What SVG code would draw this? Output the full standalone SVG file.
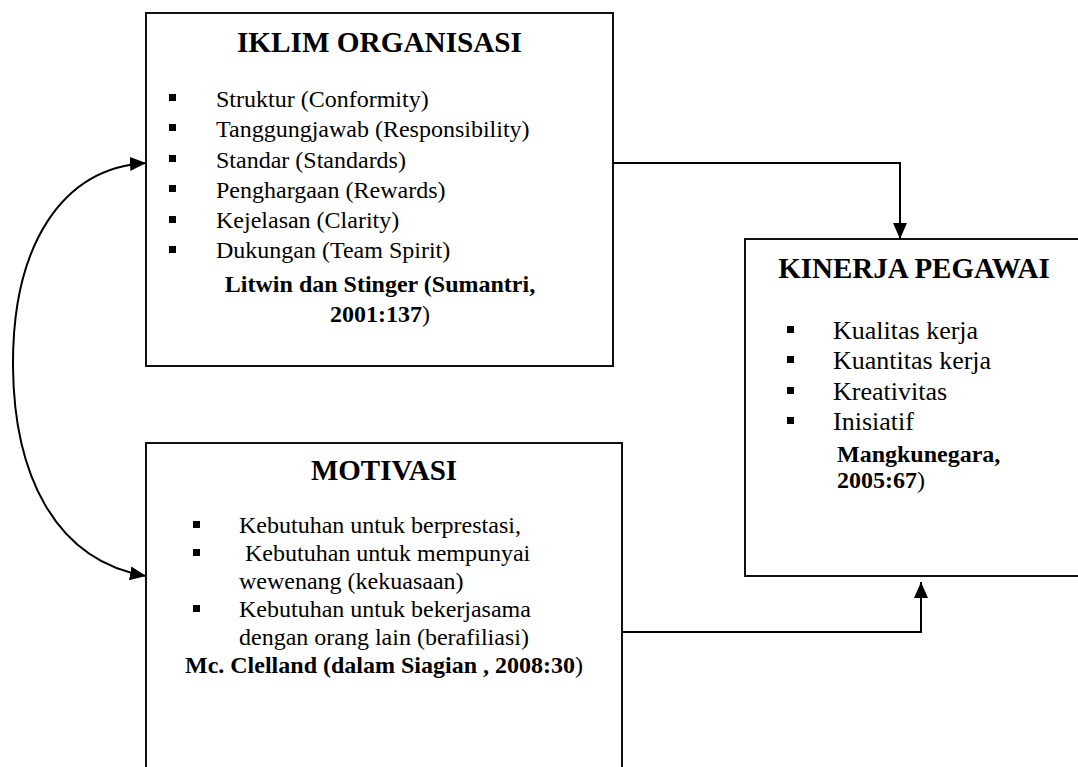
<svg xmlns="http://www.w3.org/2000/svg" width="1078" height="767" viewBox="0 0 1078 767">
<style>
.box{fill:#fff;stroke:#111;stroke-width:2}
.t{font-family:"Liberation Serif","Times New Roman",serif;fill:#000}
.title{font-size:29px;font-weight:bold;text-anchor:middle}
.item{font-size:24px}
.kitem{font-size:26px}
.cite{font-size:24px;font-weight:bold}
.n{font-weight:normal}
.bul{fill:#000}
.con{fill:none;stroke:#000;stroke-width:2}
</style>
<defs>
<marker id="ah" viewBox="0 0 16 14" refX="16" refY="7" markerWidth="16" markerHeight="14" markerUnits="userSpaceOnUse" orient="auto-start-reverse">
<path d="M0,0 L16,7 L0,14 Z" fill="#000"/>
</marker>
</defs>
<g id="iklim">
<rect class="box" x="146" y="13" width="467" height="353"/>
<text class="t title" x="379.5" y="52" textLength="285" lengthAdjust="spacingAndGlyphs">IKLIM ORGANISASI</text>
<rect class="bul" x="169" y="94" width="7" height="7"/>
<rect class="bul" x="169" y="124" width="7" height="7"/>
<rect class="bul" x="169" y="155" width="7" height="7"/>
<rect class="bul" x="169" y="185" width="7" height="7"/>
<rect class="bul" x="169" y="216" width="7" height="7"/>
<rect class="bul" x="169" y="246" width="7" height="7"/>
<text class="t item" x="216" y="107">Struktur (Conformity)</text>
<text class="t item" x="216" y="137">Tanggungjawab (Responsibility)</text>
<text class="t item" x="216" y="168">Standar (Standards)</text>
<text class="t item" x="216" y="198">Penghargaan (Rewards)</text>
<text class="t item" x="216" y="228">Kejelasan (Clarity)</text>
<text class="t item" x="216" y="258">Dukungan (Team Spirit)</text>
<text class="t cite" x="380" y="292" text-anchor="middle" font-size="26.5">Litwin dan Stinger (Sumantri,</text>
<text class="t cite" x="380" y="322" text-anchor="middle" font-size="26.5">2001:137<tspan class="n">)</tspan></text>
</g>
<g id="motivasi">
<rect class="box" x="146" y="443" width="476" height="340"/>
<text class="t title" x="384" y="480">MOTIVASI</text>
<rect class="bul" x="193" y="521" width="7" height="7"/>
<rect class="bul" x="193" y="549" width="7" height="7"/>
<rect class="bul" x="193" y="605" width="7" height="7"/>
<text class="t item" x="239" y="533">Kebutuhan untuk berprestasi,</text>
<text class="t item" x="239" y="561" xml:space="preserve"> Kebutuhan untuk mempunyai</text>
<text class="t item" x="239" y="589">wewenang (kekuasaan)</text>
<text class="t item" x="239" y="617">Kebutuhan untuk bekerjasama</text>
<text class="t item" x="239" y="645">dengan orang lain (berafiliasi)</text>
<text class="t cite" x="384" y="673" text-anchor="middle">Mc. Clelland (dalam Siagian , 2008:30<tspan class="n">)</tspan></text>
</g>
<g id="kinerja">
<rect class="box" x="745" y="239" width="345" height="337"/>
<text class="t title" x="914" y="278">KINERJA PEGAWAI</text>
<rect class="bul" x="787" y="326" width="7" height="7"/>
<rect class="bul" x="787" y="356" width="7" height="7"/>
<rect class="bul" x="787" y="387" width="7" height="7"/>
<rect class="bul" x="787" y="417" width="7" height="7"/>
<text class="t kitem" x="833" y="339">Kualitas kerja</text>
<text class="t kitem" x="833" y="369">Kuantitas kerja</text>
<text class="t kitem" x="833" y="400">Kreativitas</text>
<text class="t kitem" x="833" y="430">Inisiatif</text>
<text class="t cite" x="837" y="462">Mangkunegara,</text>
<text class="t cite" x="837" y="488">2005:67<tspan class="n">)</tspan></text>
</g>
<g id="connectors">
<polyline class="con" points="613,163 900,163 900,239" marker-end="url(#ah)"/>
<polyline class="con" points="622,632 921,632 921,582" marker-end="url(#ah)"/>
<path class="con" d="M146,163 C62,168 12,245 13,367 C14,470 52,560 146,576" marker-start="url(#ah)" marker-end="url(#ah)"/>
</g>
</svg>
